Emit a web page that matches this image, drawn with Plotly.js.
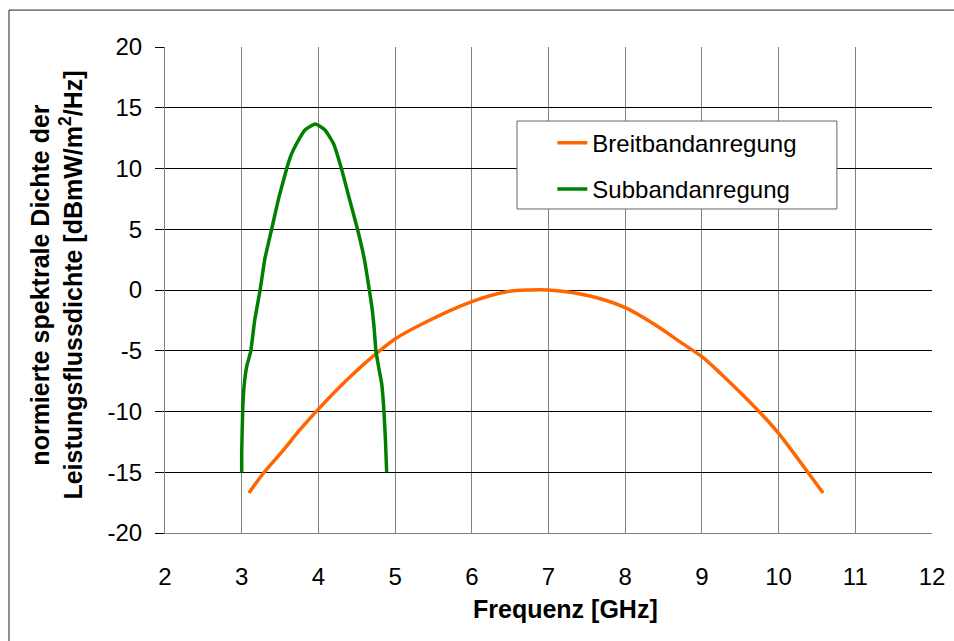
<!DOCTYPE html>
<html>
<head>
<meta charset="utf-8">
<script src="https://cdn.plot.ly/plotly-3.0.1.min.js"></script>
<style>html,body{margin:0;padding:0;background:#fff;}#chart{width:954px;height:641px;}</style>
</head>
<body>
<div id="chart"></div>
<script>
// Breitbandanregung (orange)
const breitX = [3.095, 3.28, 3.54, 3.76, 4.0, 4.37, 4.76, 5.0, 5.37, 6.0, 6.455, 6.75, 7.0, 7.54, 8.0, 8.45, 8.71, 9.0, 9.24, 9.76, 10.0, 10.28, 10.58];
const breitY = [-16.7, -15.1, -13.2, -11.5, -9.8, -7.4, -5.2, -4.03, -2.74, -0.96, -0.14, 0.0, 0.0, -0.49, -1.45, -3.1, -4.25, -5.49, -6.85, -10.1, -11.8, -14.13, -16.7];
// Subbandanregung (green)
const subX = [3.00, 3.00, 3.013, 3.03, 3.065, 3.117, 3.17, 3.24, 3.30, 3.39, 3.48, 3.587, 3.65, 3.72, 3.825, 3.96, 4.086, 4.195, 4.30, 4.40, 4.51, 4.60, 4.664, 4.70, 4.725, 4.75, 4.79, 4.825, 4.855, 4.875, 4.89];
const subY = [-15.0, -13.4, -9.9, -8.0, -6.3, -5.07, -2.47, 0.0, 2.5, 5.0, 7.5, 10.0, 11.2, 12.1, 13.17, 13.66, 13.17, 12.07, 10.0, 7.6, 5.0, 2.5, 0.0, -1.5, -3.0, -5.0, -6.5, -7.7, -10.0, -12.5, -15.0];
const seriesNames = ["Breitbandanregung", "Subbandanregung"];
const xTickVals = [2, 3, 4, 5, 6, 7, 8, 9, 10, 11, 12];
const xTickLabels = ["2", "3", "4", "5", "6", "7", "8", "9", "10", "11", "12"];
const yTickVals = [-20, -15, -10, -5, 0, 5, 10, 15, 20];
const yTickLabels = ["-20", "-15", "-10", "-5", "0", "5", "10", "15", "20"];
const xTitle = "Frequenz [GHz]";
const yTitleLines = ["normierte spektrale Dichte der", "Leistungsflussdichte [dBmW/m<sup>2</sup>/Hz]"];

const FONT = "Liberation Sans, Arial, sans-serif";

const traces = [
  {x: breitX, y: breitY, name: seriesNames[0], type: "scatter", mode: "lines",
   line: {color: "#FF6600", width: 3.5, shape: "spline", smoothing: 0.8}, legendgroup: "a"},
  {x: subX, y: subY, name: seriesNames[1], type: "scatter", mode: "lines",
   line: {color: "#008000", width: 3.5, shape: "spline", smoothing: 0.4}, legendgroup: "b"}
];

const layout = {
  width: 954, height: 641,
  margin: {l: 165, r: 22, t: 47, b: 108},
  paper_bgcolor: "#fff", plot_bgcolor: "#fff",
  font: {family: FONT, size: 24, color: "#000"},
  showlegend: true,
  legend: {x: 0.505, y: 0.8485, xanchor: "left", yanchor: "top",
           bgcolor: "rgba(0,0,0,0)", borderwidth: 0,
           font: {family: FONT, size: 24, color: "#000"},
           traceorder: "grouped", tracegroupgap: 12},
  xaxis: {range: [2, 12], tickmode: "array", tickvals: xTickVals, ticktext: xTickLabels,
          showgrid: true, gridcolor: "#808080", gridwidth: 1,
          showline: true, linecolor: "#808080", linewidth: 1, zeroline: false,
          ticks: "", ticklabelstandoff: 22,
          tickfont: {family: FONT, size: 24, color: "#000"}, fixedrange: true},
  yaxis: {range: [-20, 20], tickmode: "array", tickvals: yTickVals, ticktext: yTickLabels,
          showgrid: true, gridcolor: "#000", gridwidth: 1,
          showline: true, linecolor: "#808080", linewidth: 1, zeroline: false,
          ticks: "outside", ticklen: 9, tickcolor: "#000", ticklabelstandoff: 8,
          tickfont: {family: FONT, size: 24, color: "#000"}, fixedrange: true},
  shapes: [
    {type: "rect", xref: "paper", yref: "paper", x0: -0.2034, x1: 1.1, y0: -0.4, y1: 1.076,
     line: {color: "#222", width: 1}, fillcolor: "rgba(0,0,0,0)", layer: "below"},
    {type: "rect", xref: "paper", yref: "paper", x0: 0.4589, x1: 0.876, y0: 0.6667, y1: 0.8477,
     line: {color: "#666", width: 1}, fillcolor: "#fff", layer: "above"}
  ],
  annotations: [
    {text: "<b>" + xTitle + "</b>", xref: "paper", yref: "paper", x: 0.5228, y: -0.156,
     xanchor: "center", yanchor: "middle", showarrow: false,
     font: {family: FONT, size: 25, color: "#000"}},
    {text: yTitleLines.map(s => "<b>" + s + "</b>").join("<br>"), xref: "paper", yref: "paper", x: -0.1415, y: 0.51,
     xanchor: "center", yanchor: "middle", showarrow: false, textangle: -90,
     font: {family: FONT, size: 25, color: "#000"}}
  ]
};

Plotly.newPlot("chart", traces, layout, {staticPlot: true, displayModeBar: false});
</script>
</body>
</html>
